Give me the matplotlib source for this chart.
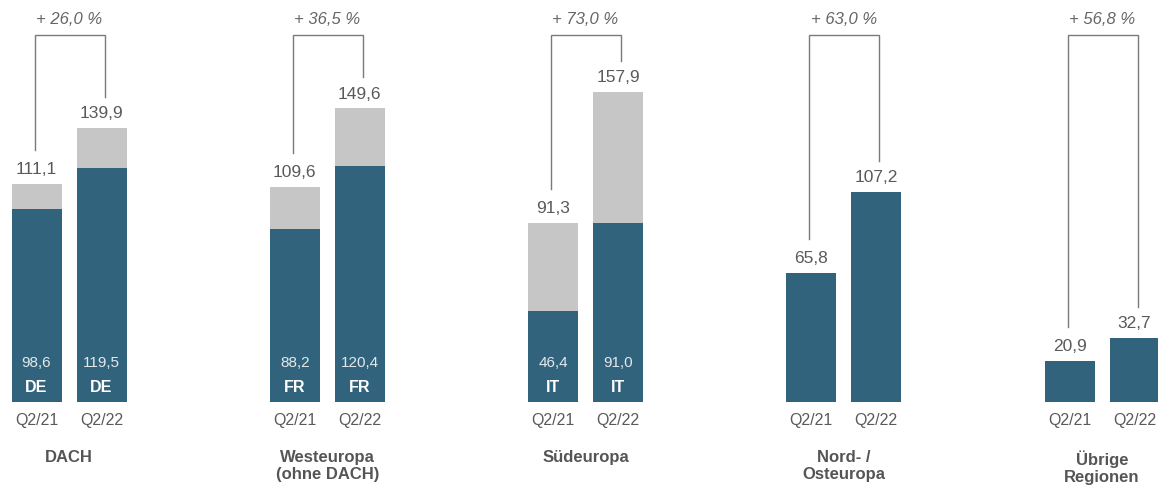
import matplotlib
matplotlib.use("Agg")
import matplotlib.pyplot as plt
import numpy as np

plt.rcParams['font.family'] = ['Liberation Sans', 'DejaVu Sans']

groups = ["DACH", "Westeuropa\n(ohne DACH)", "Südeuropa", "Nord- /\nOsteuropa", "Übrige\nRegionen"]
periods = ["Q2/21", "Q2/22"]
total_21 = [111.1, 109.6, 91.3, 65.8, 20.9]
total_22 = [139.9, 149.6, 157.9, 107.2, 32.7]
country_21 = [98.6, 88.2, 46.4, np.nan, np.nan]
country_22 = [119.5, 120.4, 91.0, np.nan, np.nan]
country_code = ["DE", "FR", "IT", "", ""]
growth = ["+ 26,0 %", "+ 36,5 %", "+ 73,0 %", "+ 63,0 %", "+ 56,8 %"]

DARK = "#31647c"
GREY = "#c6c6c6"
TXT = "#5a5a5a"

W, H = 1158, 487
fig = plt.figure(figsize=(W / 100, H / 100), dpi=100)
ax = fig.add_axes([0, 0, 1, 1])
ax.axis("off")

pxu = 1.962  # px per unit
base_px = 402
ax.set_ylim(-(H - base_px) / pxu, base_px / pxu)
gsp = 258.25
gc0 = 69
ax.set_xlim(-gc0 / gsp, (W - gc0) / gsp)

off = 32.5 / gsp
bw = 50 / gsp
x = np.arange(len(groups))

def units(px):
    return px / pxu

for i in range(len(groups)):
    for j, (tot, cty) in enumerate([(total_21[i], country_21[i]), (total_22[i], country_22[i])]):
        xc = x[i] + (off if j else -off)
        dark = tot if np.isnan(cty) else cty
        ax.bar(xc, dark, width=bw, color=DARK, linewidth=0)
        if not np.isnan(cty):
            ax.bar(xc, tot - cty, bottom=cty, width=bw, color=GREY, linewidth=0)
            ax.text(xc, units(402 - 363), f"{cty:.1f}".replace(".", ","), ha="center", va="center",
                    color="#e3e9ec", fontsize=11)
            ax.text(xc, units(402 - 387), country_code[i], ha="center", va="center",
                    color="white", fontsize=11.5, fontweight="bold")
        ax.annotate(f"{tot:.1f}".replace(".", ","), (xc, tot), xytext=(0, 5), textcoords="offset points",
                    ha="center", va="bottom", color=TXT, fontsize=12.5)
        ax.text(xc, units(402 - 420), periods[j], ha="center", va="center", color=TXT, fontsize=11.5)
    # bracket
    xl = x[i] - off - 2 / gsp
    xr = x[i] + off + 3 / gsp
    ytop = units(402 - 35)
    yl = total_21[i] + units(34)
    yr = total_22[i] + units(31)
    ax.plot([xl, xl, xr, xr], [yl, ytop, ytop, yr], color="#7a7a7a", lw=1, solid_joinstyle="miter")
    ax.text(x[i], units(402 - 20), growth[i], ha="center", va="center", color="#666666",
            fontsize=12, style="italic")
    ax.text(x[i], units(402 - 450), groups[i], ha="center", va="top", color="#555555",
            fontsize=12, fontweight="bold", linespacing=1.2)

fig.savefig("out.png", dpi=100)
